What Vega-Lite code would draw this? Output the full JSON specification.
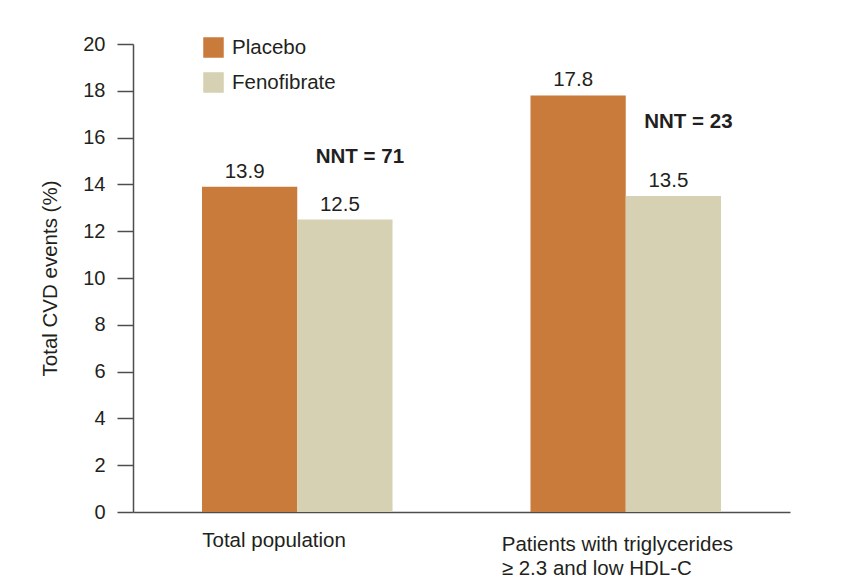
{
  "$schema": "https://vega.github.io/schema/vega-lite/v6.json",
  "width": 657,
  "height": 468,
  "autosize": {"type": "none"},
  "padding": {"left": 133, "top": 44, "right": 73, "bottom": 75},
  "background": "white",
  "config": {
    "view": {"stroke": null},
    "font": "Liberation Sans",
    "text": {"font": "Liberation Sans", "color": "#231f20"}
  },
  "datasets": {
    "bars": [
      {"group": "Total population", "treatment": "Placebo", "value": 13.9},
      {"group": "Total population", "treatment": "Fenofibrate", "value": 12.5},
      {"group": "Patients with triglycerides", "treatment": "Placebo", "value": 17.8},
      {"group": "Patients with triglycerides", "treatment": "Fenofibrate", "value": 13.5}
    ],
    "nnt": [
      {"group": "Total population", "treatment": "Fenofibrate", "y": 14.9, "label": "NNT = 71"},
      {"group": "Patients with triglycerides", "treatment": "Fenofibrate", "y": 16.4, "label": "NNT = 23"}
    ]
  },
  "encoding": {
    "x": {
      "field": "group",
      "type": "nominal",
      "sort": ["Total population", "Patients with triglycerides"],
      "scale": {"paddingInner": 0.42, "paddingOuter": 0.21},
      "axis": {
        "title": null,
        "ticks": false,
        "labelAngle": 0,
        "labelAlign": "left",
        "labelBaseline": "top",
        "labelFont": "Liberation Sans",
        "labelFontSize": 20.5,
        "labelColor": "#231f20",
        "labelPadding": {"condition": {"test": "datum.value == 'Total population'", "value": 18}, "value": 22},
        "labelLineHeight": 24,
        "labelLimit": 0,
        "labelOffset": {"condition": {"test": "datum.value == 'Total population'", "value": -95}, "value": -124},
        "labelExpr": "datum.value == 'Patients with triglycerides' ? ['Patients with triglycerides', '≥ 2.3 and low HDL-C'] : datum.label",
        "domainColor": "#4d4d4d",
        "domainWidth": 1.5
      }
    },
    "xOffset": {"field": "treatment", "type": "nominal", "sort": ["Placebo", "Fenofibrate"], "scale": {"paddingInner": 0, "paddingOuter": 0}}
  },
  "layer": [
    {
      "data": {"name": "bars"},
      "mark": {"type": "bar"},
      "encoding": {
        "y": {
          "field": "value",
          "type": "quantitative",
          "scale": {"domain": [0, 20]},
          "axis": {
            "title": "Total CVD events (%)",
            "titleFont": "Liberation Sans",
            "titleFontSize": 20.5,
            "titleFontWeight": "normal",
            "titleColor": "#231f20",
            "titlePadding": 22,
            "values": [0, 2, 4, 6, 8, 10, 12, 14, 16, 18, 20],
            "grid": false,
            "tickSize": 16,
            "tickColor": "#4d4d4d",
            "tickWidth": 1.5,
            "domainColor": "#4d4d4d",
            "domainWidth": 1.5,
            "labelFont": "Liberation Sans",
            "labelFontSize": 20,
            "labelColor": "#231f20",
            "labelPadding": 12
          }
        },
        "color": {
          "field": "treatment",
          "type": "nominal",
          "scale": {"domain": ["Placebo", "Fenofibrate"], "range": ["#c97b3b", "#d5d1b2"]},
          "legend": {
            "title": null,
            "orient": "none",
            "legendX": 70,
            "legendY": -7,
            "padding": 0,
            "symbolType": "square",
            "symbolSize": 420,
            "symbolStrokeWidth": 0,
            "symbolOpacity": 1,
            "labelFont": "Liberation Sans",
            "labelFontSize": 20.5,
            "labelColor": "#231f20",
            "labelOffset": 8,
            "rowPadding": 14
          }
        }
      }
    },
    {
      "data": {"name": "bars"},
      "mark": {"type": "text", "baseline": "alphabetic", "dy": -9, "dx": -5, "fontSize": 20.5},
      "encoding": {
        "y": {"field": "value", "type": "quantitative"},
        "text": {"field": "value", "type": "quantitative", "format": ".1f"}
      }
    },
    {
      "data": {"name": "nnt"},
      "mark": {"type": "text", "baseline": "alphabetic", "dx": 15, "fontSize": 20.5, "fontWeight": "bold"},
      "encoding": {
        "y": {"field": "y", "type": "quantitative"},
        "text": {"field": "label"}
      }
    }
  ]
}
